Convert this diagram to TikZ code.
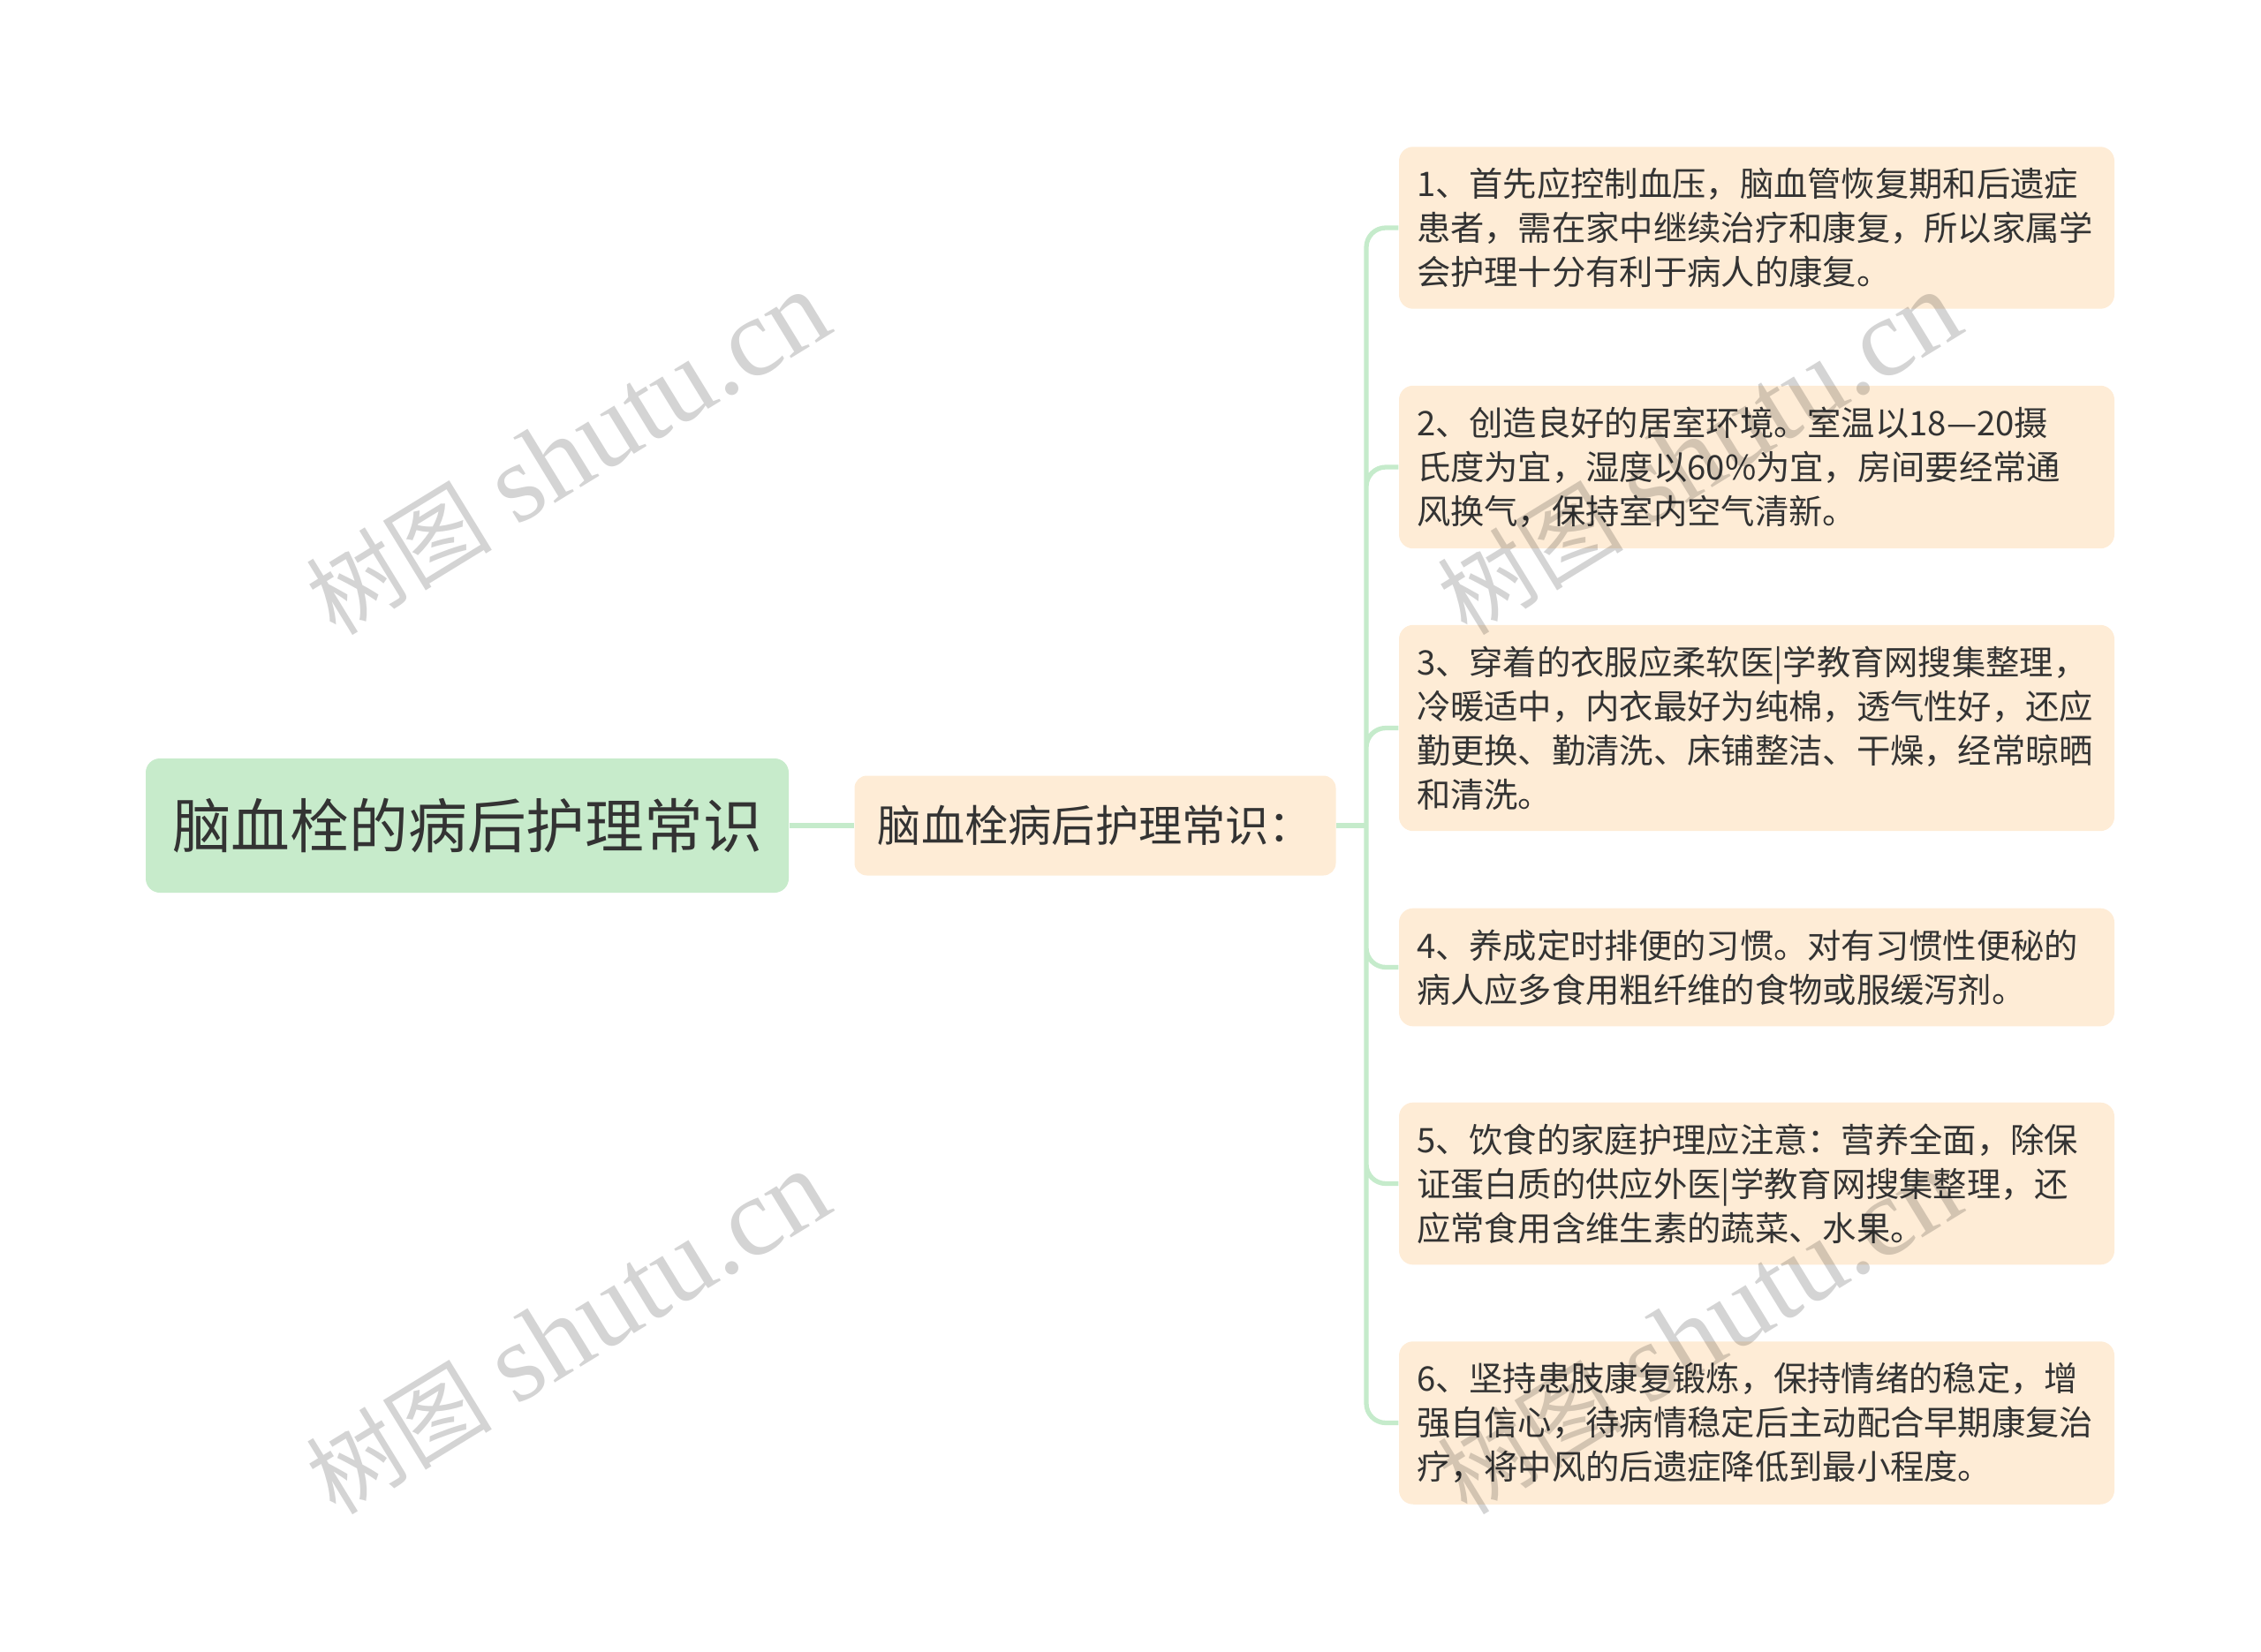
\documentclass[tikz,border=0pt]{standalone}
\usepackage{fontspec}
\setmainfont{Noto Sans CJK SC}
\newfontfamily\wmserif{Liberation Serif}
\usepackage{tikz}

\definecolor{rootgreen}{RGB}{199,235,203}
\definecolor{leafpeach}{RGB}{254,236,214}
\definecolor{linkgreen}{RGB}{197,235,203}
\definecolor{inkgray}{RGB}{51,51,51}

\tikzset{
  rootbox/.style={fill=rootgreen, rounded corners=0.16cm, text=inkgray,
    minimum width=7.28cm, minimum height=1.52cm,
    font=\fontsize{19pt}{23pt}\selectfont},
  subbox/.style={fill=leafpeach, rounded corners=0.14cm, text=inkgray,
    minimum width=5.45cm, minimum height=1.13cm,
    font=\fontsize{14pt}{17pt}\selectfont},
  leafbox/.style={fill=leafpeach, rounded corners=0.16cm, text=inkgray,
    text width=7.7cm, inner xsep=0.2cm, inner ysep=0.24cm, align=left,
    font=\fontsize{10.9pt}{14.2pt}\selectfont},
  branch/.style={draw=linkgreen, line width=1.5pt, rounded corners=0.22cm},
  watermark/.style={rotate=31.5, text=black, text opacity=0.17,
    font=\fontsize{36pt}{40pt}\selectfont}
}
\newcommand{\wmtext}{{\fontsize{30pt}{33pt}\selectfont 树图} {\wmserif shutu.cn}}

\begin{document}
\begin{tikzpicture}
\useasboundingbox (0,0) rectangle (25.6,-18.71);

\draw (5.29,-9.35) node[rootbox] (root) {脑血栓的病后护理常识} ;

\draw (12.40,-9.35) node[subbox] (sub) {脑血栓病后护理常识：} ;

\draw (19.89,-2.58) node[leafbox] (tip1) {1、首先应控制血压，脑血管恢复期和后遗症\\患者，需在家中继续治疗和康复，所以家属学\\会护理十分有利于病人的康复。} ;
\draw (19.89,-5.29) node[leafbox] (tip2) {2、创造良好的居室环境。室温以18—20摄\\氏度为宜，湿度以60\%为宜，房间要经常通\\风换气，保持室内空气清新。} ;
\draw (19.89,-8.245) node[leafbox] (tip3) {3、穿着的衣服应柔软医|学教育网搜集整理，\\冷暖适中，内衣最好为纯棉，透气性好，还应\\勤更换、勤清洗、床铺整洁、干燥，经常晾晒\\和清洗。} ;
\draw (19.89,-10.955) node[leafbox] (tip4) {4、养成定时排便的习惯。对有习惯性便秘的\\病人应多食用粗纤维的食物或服缓泻剂。} ;
\draw (19.89,-13.405) node[leafbox] (tip5) {5、饮食的家庭护理应注意：营养全面，除保\\证蛋白质的供应外医|学教育网搜集整理，还\\应常食用含维生素的蔬菜、水果。} ;
\draw (19.89,-16.115) node[leafbox] (tip6) {6、坚持患肢康复锻炼，保持情绪的稳定，增\\强自信心，待病情稳定后主动配合早期康复治\\疗，将中风的后遗症降低到最小程度。} ;

\coordinate (fork) at (15.47,-9.35) ;

\draw[branch]
      (root) -- (sub)
      (sub) -- (fork) ;
\draw[branch]
      (fork) |- (tip1.west)
      (fork) |- (tip2.west)
      (fork) |- (tip3.west)
      (fork) |- (tip4.west)
      (fork) |- (tip5.west)
      (fork) |- (tip6.west) ;

% watermark
\draw (6.43,-5.14) node[watermark] (wm1) {\wmtext} ;
\draw (6.43,-15.10) node[watermark] (wm2) {\wmtext} ;
\draw (19.24,-5.14) node[watermark] (wm3) {\wmtext} ;
\draw (19.24,-15.10) node[watermark] (wm4) {\wmtext} ;
\end{tikzpicture}
\end{document}
